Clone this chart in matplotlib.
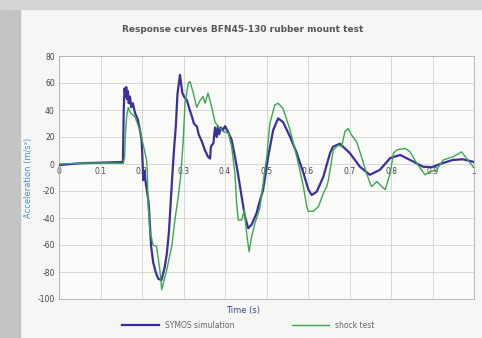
import matplotlib
matplotlib.use("Agg")
import matplotlib.pyplot as plt
from matplotlib.patches import Rectangle

# SYMOS simulation (blue)
sim_t = [0.0, 0.05, 0.10, 0.154, 0.156, 0.158, 0.160, 0.162, 0.164, 0.166, 0.168,
         0.171, 0.174, 0.178, 0.183, 0.190, 0.195, 0.199, 0.201, 0.203, 0.206,
         0.209, 0.213, 0.216, 0.219, 0.222, 0.227, 0.233, 0.239, 0.247, 0.255,
         0.260, 0.265, 0.270, 0.274, 0.277, 0.2815, 0.2855, 0.2915, 0.294, 0.297,
         0.301, 0.3085, 0.315, 0.3205, 0.325, 0.3325, 0.3365, 0.3445, 0.352,
         0.359, 0.364, 0.366, 0.372, 0.376, 0.380, 0.383, 0.386, 0.390, 0.395,
         0.400, 0.407, 0.416, 0.424, 0.431, 0.440, 0.448, 0.456, 0.464, 0.476,
         0.480, 0.492, 0.504, 0.516, 0.528, 0.540, 0.557, 0.573, 0.589, 0.601,
         0.609, 0.621, 0.637, 0.653, 0.660, 0.677, 0.701, 0.725, 0.749, 0.773,
         0.798, 0.822, 0.846, 0.877, 0.898, 0.925, 0.949, 0.973, 1.0]
sim_a = [-0.8, 0.5, 1.0, 1.5, 40, 56, 50, 57, 48, 54, 45,
         50, 42, 45, 38, 33, 25, 18, 5, -12, -5,
         -14, -22, -29, -45, -61, -73, -80, -85, -86, -76,
         -66, -50, -24, -4, 10, 28, 52, 66, 60, 53,
         50, 47, 40, 35, 30, 27.6, 22, 16.5, 10,
         5.4, 4, 12.8, 15.5, 27, 20, 28, 22, 27, 25,
         28, 24, 17.8, 5.4, -6.7, -24, -39, -47.6, -45, -36.5,
         -31.6, -19, 5.4, 25, 33.8, 31, 20, 8, -6.7, -19,
         -23, -20.5, -9.4, 8, 12.8, 15, 8, -2, -8, -4.4,
         4.4, 6.7, 3, -2, -2.4, 0.7, 3, 3.5, 1.5]

# shock test (green)
test_t = [0.0, 0.05, 0.10, 0.155, 0.158, 0.160, 0.163, 0.167, 0.172, 0.183,
          0.195, 0.202, 0.211, 0.213, 0.2145, 0.219, 0.2265, 0.235, 0.243, 0.2475,
          0.2595, 0.2716, 0.2795, 0.2875, 0.293, 0.299, 0.3036, 0.3116, 0.3157,
          0.3236, 0.3318, 0.340, 0.347, 0.352, 0.359, 0.368, 0.376, 0.384, 0.396,
          0.408, 0.416, 0.420, 0.424, 0.428, 0.432, 0.440, 0.4465, 0.452, 0.458,
          0.464, 0.472, 0.484, 0.492, 0.5005, 0.508, 0.520, 0.528, 0.540, 0.557,
          0.573, 0.589, 0.597, 0.601, 0.613, 0.625, 0.637, 0.645, 0.649, 0.661,
          0.673, 0.681, 0.689, 0.697, 0.705, 0.717, 0.729, 0.741, 0.753, 0.766,
          0.778, 0.786, 0.798, 0.806, 0.814, 0.834, 0.846, 0.862, 0.882, 0.894,
          0.910, 0.926, 0.950, 0.970, 0.982, 0.998]
test_a = [0.0, 0.5, 0.8, 0.5, 5, 22, 35, 42, 38, 35,
          25, 15.5, 3, -7, -29, -49, -60, -61, -78.5, -93,
          -78.5, -61, -41, -24, -9.4, 15.5, 45, 60, 61,
          52.5, 42, 47, 50, 45, 52.5, 42, 31, 27.6, 24,
          23, 12.8, 3, -7, -29, -41.5, -41.5, -34, -51, -65,
          -54, -44, -32.6, -14, 5.4, 30, 43.7, 45, 41, 25,
          5.4, -16.8, -31.6, -35, -35, -31.6, -21.7, -16.8, -12, 10.4,
          14, 12.8, 24, 26.4, 21.5, 16.5, 5.4, -7, -16.8, -13,
          -16.8, -19, -7, 8, 10.4, 11.6, 9, 0.5, -8, -5.7,
          -4.4, 3, 5.4, 9, 4.2, -2]

x_ticks = [0, 0.1, 0.2, 0.3, 0.4, 0.5, 0.6, 0.7, 0.8, 0.9, 1]
x_labels = ["0", "0.1", "0.2", "0.3", "0.4", "0.5", "0.6", "0.7", "0.8", "0.9", "1"]
y_ticks = [80, 60, 40, 20, 0, -20, -40, -60, -80, -100]

fig = plt.figure(figsize=(4.82, 3.38), dpi=100)
fig.patch.set_facecolor("#f6f6f4")
# grey edges of the photographed page
fig.add_artist(Rectangle((0, 0), 20 / 482, 1, transform=fig.transFigure,
                         color="#c4c4c4", zorder=0))
fig.add_artist(Rectangle((0, 1 - 9 / 338), 1, 9 / 338, transform=fig.transFigure,
                         color="#d4d4d4", zorder=0))

ax = fig.add_axes([59 / 482, 1 - 299 / 338, 415 / 482, 243 / 338])
ax.set_facecolor("#fbfbfa")
ax.plot(sim_t, sim_a, color="#3b2f9e", lw=1.6, label="SYMOS simulation", zorder=3)
ax.plot(test_t, test_a, color="#3aa84c", lw=1.0, label="shock test", zorder=4)

ax.set_xlim(0, 1)
ax.set_ylim(-100, 80)
ax.set_xticks(x_ticks)
ax.set_xticklabels([])
ax.set_yticks(y_ticks)
ax.set_yticklabels([str(v) for v in y_ticks])
ax.tick_params(axis="both", length=0, labelsize=5.5, labelcolor="#444444", pad=3)
ax.grid(True, color="#d2d2d2", lw=0.6)
for s in ax.spines.values():
    s.set_color("#b0b0b0")
    s.set_linewidth(0.6)

# x tick labels sit just under the zero line
sec = ax.secondary_xaxis(100 / 180)
sec.xaxis.set_ticks_position("bottom")
sec.set_xticks(x_ticks)
sec.set_xticklabels(x_labels)
sec.tick_params(length=0, labelsize=5.5, labelcolor="#444444", pad=2)
for s in sec.spines.values():
    s.set_visible(False)

ax.set_ylabel("Acceleration (m/s\u00b2)", color="#4f8cc9", fontsize=6, labelpad=3)
fig.text(0.504, 1 - 30 / 338, "Response curves BFN45-130 rubber mount test",
         ha="center", va="center", fontsize=6.5, fontweight="bold", color="#555555")
fig.text(243 / 482, 1 - 311 / 338, "Time (s)", ha="center", va="center",
         fontsize=6, color="#2f4f86")

fig.legend(loc="center", bbox_to_anchor=(0.515, 1 - 325 / 338), ncol=2, frameon=False,
           fontsize=5.5, handlelength=4.8, columnspacing=7.5, labelcolor="#666666")

fig.savefig("out.png", dpi=100, facecolor=fig.get_facecolor())
